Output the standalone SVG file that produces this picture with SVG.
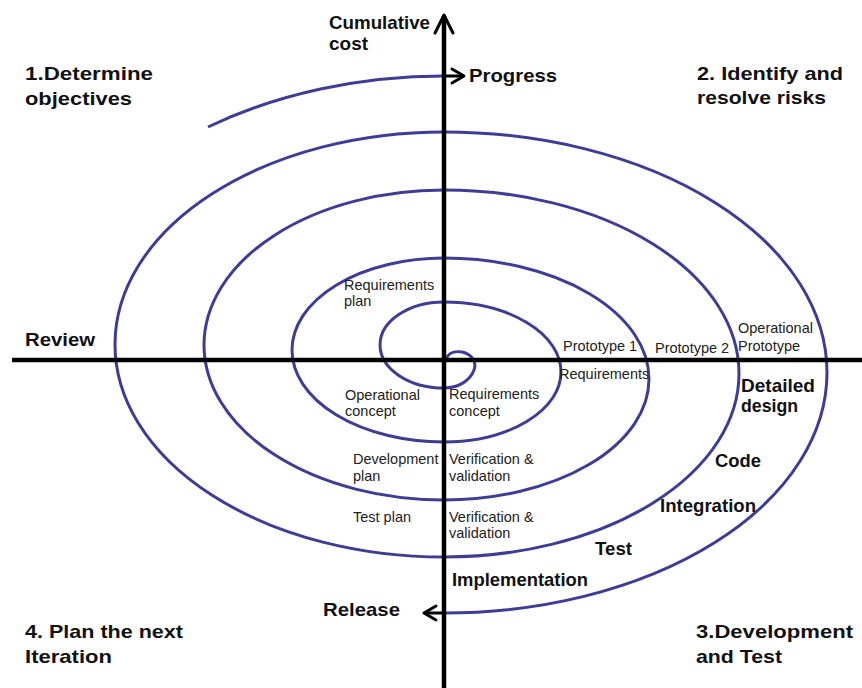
<svg xmlns="http://www.w3.org/2000/svg" width="862" height="688" viewBox="0 0 862 688">
<style>
.ax{stroke:#000;stroke-width:4.5;fill:none}
.ah{stroke:#000;stroke-width:3;fill:none;stroke-linecap:round;stroke-linejoin:round}
.sp{stroke:#3d3d98;stroke-width:3;fill:none}
.big{font-family:"Liberation Sans",Arial,sans-serif;font-weight:bold;font-size:19px;fill:#111}
.sm{font-family:"Liberation Sans",Arial,sans-serif;font-size:14.5px;fill:#222}
</style>
<rect width="862" height="688" fill="#fff"/>
<g id="connectors">
<path id="spiral" class="sp" d="M208,127 A420,295 0 0 1 444,76 M446,360 C448,352 456,351 462,352 C472,354 477,362 474,370 C470,381 458,388 444,388 A64,43 0 0 1 444,302 A117,70 0 0 1 444,442 A152,92 0 0 1 444,258 A205,121 0 0 1 444,500 A240,155 0 0 1 444,190 A295,183.5 0 0 1 444,557 A329,212.5 0 0 1 444,132 A383,240.5 0 0 1 444,613"/>
<line id="h-axis" class="ax" x1="12" y1="360" x2="862" y2="360"/>
<line id="v-axis" class="ax" x1="444" y1="16" x2="444" y2="688"/>
<polyline class="ah" points="435,33 444,15 453,33"/>
<line class="ah" x1="444" y1="76" x2="463" y2="76"/>
<polyline class="ah" points="452,69 464,76 452,83"/>
<line class="ah" x1="444" y1="613" x2="425" y2="613"/>
<polyline class="ah" points="436,606 424,613 436,620"/>
</g>
<g id="quadrant1"><text class="big" x="25" y="80" textLength="128" lengthAdjust="spacingAndGlyphs">1.Determine</text><text class="big" x="25" y="105" textLength="107" lengthAdjust="spacingAndGlyphs">objectives</text></g>
<g id="quadrant2"><text class="big" x="697" y="80" textLength="146" lengthAdjust="spacingAndGlyphs">2. Identify and</text><text class="big" x="697" y="104" textLength="129" lengthAdjust="spacingAndGlyphs">resolve risks</text></g>
<g id="quadrant3"><text class="big" x="696" y="638" textLength="157" lengthAdjust="spacingAndGlyphs">3.Development</text><text class="big" x="696" y="663" textLength="86" lengthAdjust="spacingAndGlyphs">and Test</text></g>
<g id="quadrant4"><text class="big" x="25" y="638" textLength="158" lengthAdjust="spacingAndGlyphs">4. Plan the next</text><text class="big" x="25" y="663" textLength="87" lengthAdjust="spacingAndGlyphs">Iteration</text></g>
<g id="cumulative-cost"><text class="big" x="329" y="29" textLength="101" lengthAdjust="spacingAndGlyphs">Cumulative</text><text class="big" x="329" y="50" textLength="39" lengthAdjust="spacingAndGlyphs">cost</text></g>
<g id="progress"><text class="big" x="469" y="82" textLength="88" lengthAdjust="spacingAndGlyphs">Progress</text></g>
<g id="review"><text class="big" x="25" y="346" textLength="70" lengthAdjust="spacingAndGlyphs">Review</text></g>
<g id="release"><text class="big" x="323" y="616" textLength="77" lengthAdjust="spacingAndGlyphs">Release</text></g>
<g id="implementation"><text class="big" x="452" y="586" textLength="136" lengthAdjust="spacingAndGlyphs">Implementation</text></g>
<g id="test"><text class="big" x="595" y="555" textLength="37" lengthAdjust="spacingAndGlyphs">Test</text></g>
<g id="integration"><text class="big" x="660" y="512" textLength="96" lengthAdjust="spacingAndGlyphs">Integration</text></g>
<g id="code"><text class="big" x="715" y="467" textLength="46" lengthAdjust="spacingAndGlyphs">Code</text></g>
<g id="detailed-design"><text class="big" x="741" y="392" textLength="74" lengthAdjust="spacingAndGlyphs">Detailed</text><text class="big" x="741" y="412" textLength="57" lengthAdjust="spacingAndGlyphs">design</text></g>
<g id="requirements-plan"><text class="sm" x="344" y="290">Requirements</text><text class="sm" x="344" y="306">plan</text></g>
<g id="prototype1"><text class="sm" x="563" y="351">Prototype 1</text></g>
<g id="requirements"><text class="sm" x="559" y="379">Requirements</text></g>
<g id="prototype2"><text class="sm" x="655" y="353">Prototype 2</text></g>
<g id="operational-prototype"><text class="sm" x="738" y="333">Operational</text><text class="sm" x="738" y="351">Prototype</text></g>
<g id="operational-concept"><text class="sm" x="345" y="400">Operational</text><text class="sm" x="345" y="416">concept</text></g>
<g id="requirements-concept"><text class="sm" x="449" y="399">Requirements</text><text class="sm" x="449" y="416">concept</text></g>
<g id="development-plan"><text class="sm" x="353" y="464">Development</text><text class="sm" x="353" y="481">plan</text></g>
<g id="vv1"><text class="sm" x="449" y="464">Verification &amp;</text><text class="sm" x="449" y="481">validation</text></g>
<g id="test-plan"><text class="sm" x="353" y="522">Test plan</text></g>
<g id="vv2"><text class="sm" x="449" y="522">Verification &amp;</text><text class="sm" x="449" y="538">validation</text></g>
</svg>
